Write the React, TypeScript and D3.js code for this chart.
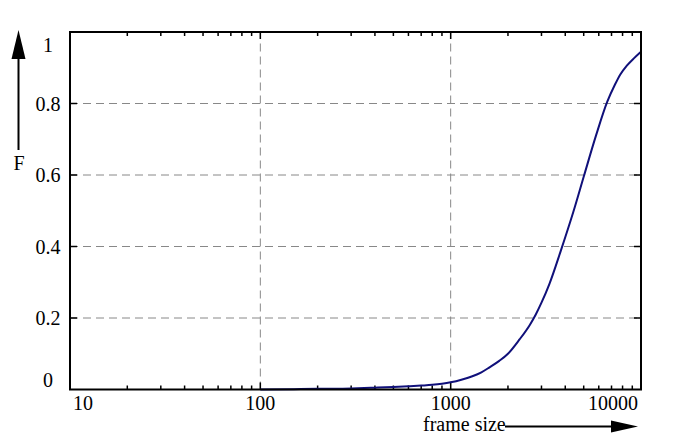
import { useEffect, useRef } from "react";
import * as d3 from "d3";

// frame size (bytes) and cumulative fraction F
const frameSizes = [
  100, 150, 200, 300, 400, 500, 600, 700, 800, 900, 1000, 1150, 1300, 1450,
  1600, 1800, 2000, 2300, 2600, 2800, 3000, 3300, 3800, 4400, 5000, 5800,
  6650, 7300, 7800, 8400, 9200, 10000,
];
const cdfValues = [
  0, 0.001, 0.002, 0.003, 0.005, 0.007, 0.009, 0.011, 0.013, 0.016, 0.02,
  0.028, 0.037, 0.048, 0.062, 0.08, 0.1, 0.14, 0.18, 0.21, 0.243, 0.295,
  0.39, 0.495, 0.595, 0.71, 0.805, 0.853, 0.882, 0.905, 0.927, 0.945,
];
const xTicks = [10, 100, 1000, 10000];
const yTicks = [0, 0.2, 0.4, 0.6, 0.8, 1];
const yTickLabels = ["0", "0.2", "0.4", "0.6", "0.8", "1"];

export default function App() {
  const width = 689;
  const height = 445;
  const svgRef = useRef<SVGSVGElement>(null);

  useEffect(() => {
    const left = 70;
    const right = 641;
    const top = 32;
    const bottom = 389.5;
    const font = "'Liberation Serif', 'Times New Roman', serif";

    const x = d3.scaleLog().domain([10, 10000]).range([left, right]);
    const y = d3.scaleLinear().domain([0, 1]).range([bottom, top]);

    const svg = d3.select(svgRef.current);
    svg.selectAll("*").remove();

    // grid
    const grid = svg.append("g").attr("stroke", "#888").attr("stroke-width", 1).attr("stroke-dasharray", "8,5");
    grid
      .selectAll("line.v")
      .data([100, 1000])
      .join("line")
      .attr("x1", (d) => x(d))
      .attr("x2", (d) => x(d))
      .attr("y1", bottom)
      .attr("y2", top);
    grid
      .selectAll("line.h")
      .data([0.2, 0.4, 0.6, 0.8])
      .join("line")
      .attr("x1", left)
      .attr("x2", right)
      .attr("y1", (d) => y(d))
      .attr("y2", (d) => y(d));

    // ticks
    const minor: number[] = [];
    [10, 100, 1000].forEach((base) => {
      for (let k = 2; k <= 9; k++) minor.push(base * k);
    });
    const ticks = svg.append("g").attr("stroke", "#000").attr("stroke-width", 1.5);
    const xt = [
      ...minor.map((v) => ({ v, len: 4 })),
      ...[100, 1000].map((v) => ({ v, len: 7 })),
    ];
    ticks
      .selectAll("line.xb")
      .data(xt)
      .join("line")
      .attr("x1", (d) => x(d.v))
      .attr("x2", (d) => x(d.v))
      .attr("y1", bottom)
      .attr("y2", (d) => bottom - d.len);
    ticks
      .selectAll("line.xt")
      .data(xt)
      .join("line")
      .attr("x1", (d) => x(d.v))
      .attr("x2", (d) => x(d.v))
      .attr("y1", top)
      .attr("y2", (d) => top + d.len);
    ticks
      .selectAll("line.yl")
      .data([0.2, 0.4, 0.6, 0.8])
      .join("line")
      .attr("x1", left)
      .attr("x2", left + 7)
      .attr("y1", (d) => y(d))
      .attr("y2", (d) => y(d));
    ticks
      .selectAll("line.yr")
      .data([0.2, 0.4, 0.6, 0.8])
      .join("line")
      .attr("x1", right)
      .attr("x2", right - 7)
      .attr("y1", (d) => y(d))
      .attr("y2", (d) => y(d));

    // curve
    const pts = frameSizes.map((v, i) => [x(v), y(cdfValues[i])] as [number, number]);
    svg
      .append("path")
      .attr("d", d3.line().curve(d3.curveMonotoneX)(pts))
      .attr("fill", "none")
      .attr("stroke", "#10107a")
      .attr("stroke-width", 2);

    // frame
    svg
      .append("rect")
      .attr("x", left)
      .attr("y", top)
      .attr("width", right - left)
      .attr("height", bottom - top)
      .attr("fill", "none")
      .attr("stroke", "#000")
      .attr("stroke-width", 2);

    // x labels
    svg
      .append("g")
      .attr("font-family", font)
      .attr("font-size", 20)
      .selectAll("text")
      .data(xTicks)
      .join("text")
      .attr("x", (d, i) => (i === 0 ? x(d) + 3 : i === xTicks.length - 1 ? x(d) - 3 : x(d)))
      .attr("y", 410)
      .attr("text-anchor", (d, i) => (i === 0 ? "start" : i === xTicks.length - 1 ? "end" : "middle"))
      .text((d) => String(d));

    // y labels
    svg
      .append("g")
      .attr("font-family", font)
      .attr("font-size", 20)
      .attr("text-anchor", "middle")
      .selectAll("text")
      .data(yTicks)
      .join("text")
      .attr("x", 48)
      .attr("y", (d) => Math.min(Math.max(y(d), top + 12.5), bottom - 10) + 7)
      .text((d, i) => yTickLabels[i]);

    // y arrow + label
    svg.append("line").attr("x1", 18.5).attr("x2", 18.5).attr("y1", 150).attr("y2", 55).attr("stroke", "#000").attr("stroke-width", 2);
    svg.append("path").attr("d", "M18.5,30 L11.5,59 L25.5,59 Z").attr("fill", "#000");
    svg
      .append("text")
      .attr("x", 19)
      .attr("y", 170)
      .attr("text-anchor", "middle")
      .attr("font-family", font)
      .attr("font-size", 20)
      .text("F");

    // x arrow + label
    svg
      .append("text")
      .attr("x", 423)
      .attr("y", 431)
      .attr("font-family", font)
      .attr("font-size", 20)
      .text("frame size");
    svg.append("line").attr("x1", 505).attr("x2", 615).attr("y1", 426.5).attr("y2", 426.5).attr("stroke", "#000").attr("stroke-width", 2);
    svg.append("path").attr("d", "M638,426.5 L611,420.5 L611,432.5 Z").attr("fill", "#000");
  }, []);

  return (
    <svg
      ref={svgRef}
      width={width}
      height={height}
      style={{ position: "absolute", left: 0, top: 0, background: "#fff" }}
    />
  );
}
